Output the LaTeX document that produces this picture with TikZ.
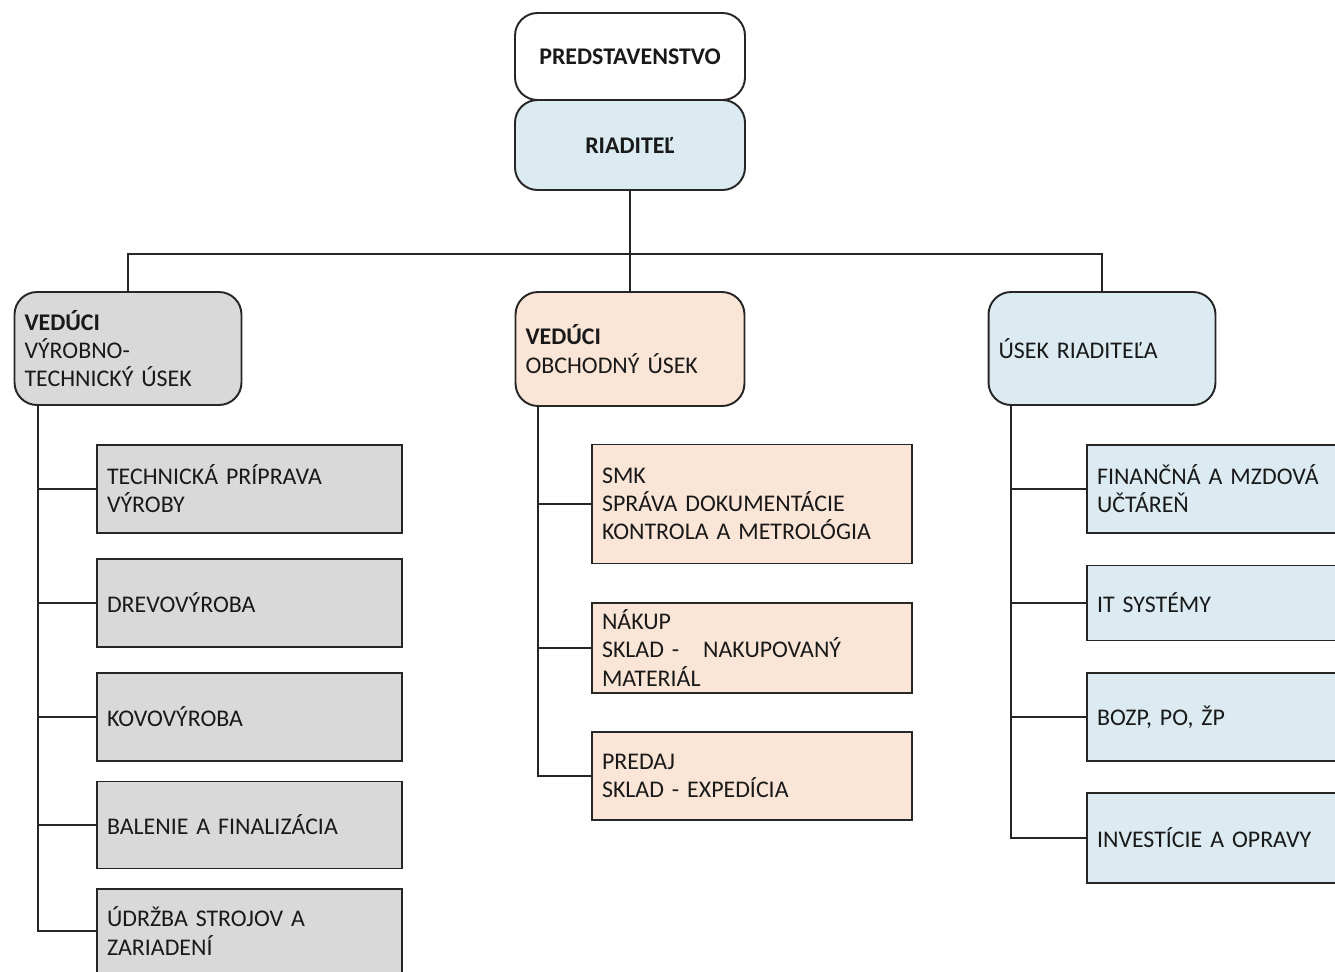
\documentclass[tikz,border=0pt]{standalone}
\usepackage{fontspec}
\setmainfont{Carlito}
\definecolor{grayfill}{HTML}{D9D9D9}
\definecolor{peachfill}{HTML}{FBE5D6}
\definecolor{bluefill}{HTML}{DBEBF1}
\tikzset{
    unitbox/.style={draw=black!85, line width=1.1pt, inner xsep=0.2cm, align=left,
        text=black!90, font=\fontsize{13.6}{16}\selectfont},
    leadbox/.style={unitbox, rounded corners=0.45cm},
    link/.style={draw=black!85, line width=1.1pt}
}
\begin{document}
\begin{tikzpicture}[x=0.02cm,y=-0.02cm]
            \clip (0,0) rectangle (1335,971);
            \fill[white] (0,0) rectangle (1335,971);
            % top
            \node[leadbox, fill=white, align=center, minimum width=4.6cm, minimum height=1.74cm, font=\fontsize{13.6}{16}\selectfont\bfseries] (pred) at (630,56.5) {PREDSTAVENSTVO};
            \node[leadbox, fill=bluefill, align=center, minimum width=4.6cm, minimum height=1.8cm, font=\fontsize{13.6}{16}\selectfont\bfseries] (riad) at (630,145) {RIADITEĽ};
            % heads
            \node[leadbox, fill=grayfill, text width=4.14cm, minimum height=2.26cm] (vt) at (128,348.5) {\textbf{VEDÚCI}\\VÝROBNO-\\TECHNICKÝ ÚSEK};
            \node[leadbox, fill=peachfill, text width=4.18cm, minimum height=2.28cm] (ou) at (630,349) {\textbf{VEDÚCI}\\OBCHODNÝ ÚSEK};
            \node[leadbox, fill=bluefill, text width=4.14cm, minimum height=2.26cm] (ur) at (1102,348.5) {ÚSEK RIADITEĽA};
            \coordinate (bus) at (630,254);
            \draw[link] (riad.south) -- (ou.north);
            \draw[link] (vt.north) |- (bus) -| (ur.north);
            % vyrobno-technicky usek
            \node[unitbox, fill=grayfill, text width=5.7cm, minimum height=1.76cm] (tp) at (249.5,489) {TECHNICKÁ PRÍPRAVA\\VÝROBY};
            \node[unitbox, fill=grayfill, text width=5.7cm, minimum height=1.76cm] (dv) at (249.5,603) {DREVOVÝROBA};
            \node[unitbox, fill=grayfill, text width=5.7cm, minimum height=1.76cm] (kv) at (249.5,717) {KOVOVÝROBA};
            \node[unitbox, fill=grayfill, text width=5.7cm, minimum height=1.74cm] (bf) at (249.5,825) {BALENIE A FINALIZÁCIA};
            \node[unitbox, fill=grayfill, text width=5.7cm, minimum height=1.68cm] (ud) at (249.5,931) {ÚDRŽBA STROJOV A\\ZARIADENÍ};
            \coordinate (vtrunk) at (38,405);
            \draw[link] (vtrunk) |- (ud.west);
            \foreach \n in {tp,dv,kv,bf}
                \draw[link] (\n.west) -- (\n.west -| vtrunk);
            % obchodny usek
            \node[unitbox, fill=peachfill, text width=6.0cm, minimum height=2.38cm] (smk) at (752,504) {SMK\\SPRÁVA DOKUMENTÁCIE\\KONTROLA A METROLÓGIA};
            \node[unitbox, fill=peachfill, text width=6.0cm, minimum height=1.8cm] (nak) at (752,648) {NÁKUP\\SKLAD -\ \ \ NAKUPOVANÝ\\MATERIÁL};
            \node[unitbox, fill=peachfill, text width=6.0cm, minimum height=1.76cm] (pre) at (752,776) {PREDAJ\\SKLAD - EXPEDÍCIA};
            \coordinate (otrunk) at (538,406);
            \draw[link] (otrunk) |- (pre.west);
            \foreach \n in {smk,nak}
                \draw[link] (\n.west) -- (\n.west -| otrunk);
            % usek riaditela
            \node[unitbox, fill=bluefill, text width=5.7cm, minimum height=1.76cm] (fin) at (1239.5,489) {FINANČNÁ A MZDOVÁ\\UČTÁREŇ};
            \node[unitbox, fill=bluefill, text width=5.7cm, minimum height=1.5cm] (its) at (1239.5,603) {IT SYSTÉMY};
            \node[unitbox, fill=bluefill, text width=5.7cm, minimum height=1.76cm] (boz) at (1239.5,717) {BOZP, PO, ŽP};
            \node[unitbox, fill=bluefill, text width=5.7cm, minimum height=1.8cm] (inv) at (1239.5,838) {INVESTÍCIE A OPRAVY};
            \coordinate (rtrunk) at (1011,405);
            \draw[link] (rtrunk) |- (inv.west);
            \foreach \n in {fin,its,boz}
                \draw[link] (\n.west) -- (\n.west -| rtrunk);
        \end{tikzpicture}
\end{document}
